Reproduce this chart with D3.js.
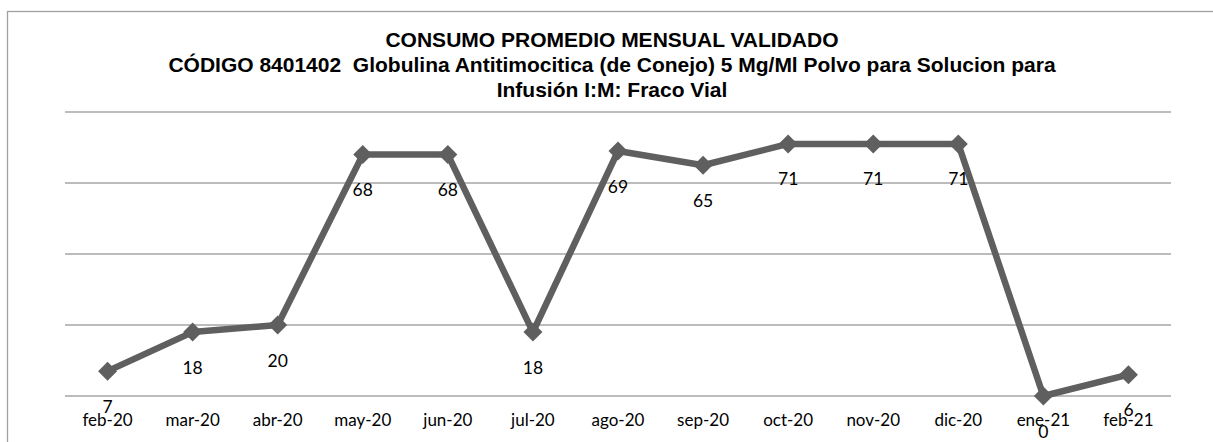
<!DOCTYPE html>
<html>
<head>
<meta charset="utf-8">
<script src="https://cdn.jsdelivr.net/npm/d3@7"></script>
<style>
  html, body { margin: 0; padding: 0; background: #fff; }
  svg { display: block; }
  .title { font-family: "Liberation Sans", Arial, sans-serif; font-weight: bold; font-size: 21px; fill: #000; }
  .cat { font-family: Lato, "Open Sans", sans-serif; font-size: 17px; fill: #000; }
  .lbl { font-family: Lato, "Open Sans", sans-serif; font-size: 17.5px; fill: #000; }
</style>
</head>
<body>
<svg id="chart" width="1213" height="442"></svg>
<script>
// Chart data
const months = ['feb-20', 'mar-20', 'abr-20', 'may-20', 'jun-20', 'jul-20', 'ago-20',
  'sep-20', 'oct-20', 'nov-20', 'dic-20', 'ene-21', 'feb-21'];
const consumo = [7, 18, 20, 68, 68, 18, 69, 65, 71, 71, 71, 0, 6];
const yTicks = [0, 20, 40, 60, 80];
const titleLines = [
  'CONSUMO PROMEDIO MENSUAL VALIDADO',
  'CÓDIGO 8401402  Globulina Antitimocitica (de Conejo) 5 Mg/Ml Polvo para Solucion para',
  'Infusión I:M: Fraco Vial'
];

const svg = d3.select('#chart');

// Outer chart frame (runs past right/bottom edges)
svg.append('rect')
  .attr('x', 7.5).attr('y', 11.5)
  .attr('width', 1230).attr('height', 460)
  .attr('fill', '#fff')
  .attr('stroke', '#a0a0a0')
  .attr('stroke-width', 1.3);

// Title
svg.append('text')
  .attr('class', 'title')
  .attr('text-anchor', 'middle')
  .attr('xml:space', 'preserve')
  .style('white-space', 'pre')
  .selectAll('tspan')
  .data(titleLines)
  .join('tspan')
  .attr('x', 612)
  .attr('y', (d, i) => 47 + i * 25)
  .text(d => d);

// Scales
const x = d3.scaleBand().domain(months).range([65, 1171]);
const y = d3.scaleLinear().domain([0, 80]).range([396, 112]);
const cx = d => x(d) + x.bandwidth() / 2;

// Gridlines
svg.append('g')
  .selectAll('line')
  .data(yTicks)
  .join('line')
  .attr('x1', 65).attr('x2', 1171)
  .attr('y1', d => y(d)).attr('y2', d => y(d))
  .attr('stroke', '#a6a6a6')
  .attr('stroke-width', 1.3);

// Category axis labels
svg.append('g')
  .selectAll('text')
  .data(months)
  .join('text')
  .attr('class', 'cat')
  .attr('text-anchor', 'middle')
  .attr('x', d => cx(d))
  .attr('y', 426)
  .text(d => d);

const pts = months.map((m, i) => ({ m, v: consumo[i] }));

// Series line
const line = d3.line().x(d => cx(d.m)).y(d => y(d.v));
svg.append('path')
  .datum(pts)
  .attr('d', line)
  .attr('fill', 'none')
  .attr('stroke', '#5f5f5f')
  .attr('stroke-width', 6.5)
  .attr('stroke-linejoin', 'round');

// Diamond markers
svg.append('g')
  .selectAll('path')
  .data(pts)
  .join('path')
  .attr('d', d => {
    const px = cx(d.m), py = y(d.v), r = 9.5;
    return `M${px},${py - r}L${px + r},${py}L${px},${py + r}L${px - r},${py}Z`;
  })
  .attr('fill', '#5f5f5f');

// Data labels below points
svg.append('g')
  .selectAll('text')
  .data(pts)
  .join('text')
  .attr('class', 'lbl')
  .attr('text-anchor', 'middle')
  .attr('x', d => cx(d.m))
  .attr('y', d => y(d.v) + 41.5)
  .text(d => d.v);
</script>
</body>
</html>
